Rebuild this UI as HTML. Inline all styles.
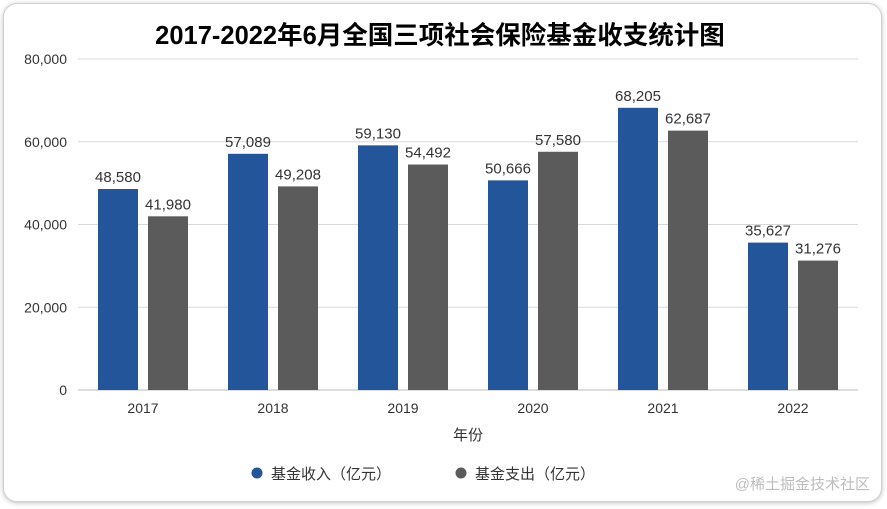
<!DOCTYPE html>
<html><head><meta charset="utf-8">
<style>
body{margin:0;background:#fff;width:887px;height:509px;overflow:hidden;font-family:"Liberation Sans","Noto Sans CJK SC",sans-serif;}
.card{position:absolute;left:3px;top:3px;width:877px;height:497px;border:1px solid #d0d0d0;border-radius:14px;box-shadow:0 1px 5px rgba(0,0,0,.25);background:#fff;}
</style></head><body>
<div class="card"></div>
<svg id="c" width="887" height="509" style="position:absolute;left:0;top:0">
<text x="440" y="44" text-anchor="middle" font-size="25.5" font-weight="bold" fill="#000" font-family="Liberation Sans,Noto Sans CJK SC,sans-serif">2017-2022年6月全国三项社会保险基金收支统计图</text>
<g id="grid"></g><g id="bars"></g><g id="labels"></g>
<text x="468" y="440" text-anchor="middle" font-size="15" fill="#333" font-family="Liberation Sans,Noto Sans CJK SC,sans-serif">年份</text>
<g><circle cx="257" cy="473" r="5.5" fill="#23559b"/><text x="271" y="479" font-size="15" fill="#333" font-family="Liberation Sans,Noto Sans CJK SC,sans-serif">基金收入（亿元）</text></g>
<g><circle cx="461" cy="473" r="5.5" fill="#5b5b5b"/><text x="475" y="479" font-size="15" fill="#333" font-family="Liberation Sans,Noto Sans CJK SC,sans-serif">基金支出（亿元）</text></g>
<text x="870" y="489" text-anchor="end" font-size="15" fill="#bdbdbd" font-family="Liberation Sans,Noto Sans CJK SC,sans-serif">@稀土掘金技术社区</text>
</svg>
<script>
const categories=["2017","2018","2019","2020","2021","2022"];
const income=[48580,57089,59130,50666,68205,35627];
const expense=[41980,49208,54492,57580,62687,31276];
const yTicks=[0,20000,40000,60000,80000];
const NS="http://www.w3.org/2000/svg";
const x0=78,x1=858,y0=390,y1=59,ymax=80000;
const band=(x1-x0)/categories.length;
const y=v=>y0-(v/ymax)*(y0-y1);
const xc=i=>x0+band*(i+0.5);
function mk(tag,at,parent,txt){const e=document.createElementNS(NS,tag);for(const k in at)e.setAttribute(k,at[k]);if(txt!=null)e.textContent=txt;document.getElementById(parent).appendChild(e);return e;}
const fmt=v=>v.toLocaleString('en-US');
const ff="Liberation Sans,Noto Sans CJK SC,sans-serif";
yTicks.forEach(t=>{
 const l=mk('line',{x1:x0,x2:x1,y1:y(t),y2:y(t),stroke:t===0?'#bbb':'#d9d9d9','stroke-width':1},'grid');
 
 
 const tx=mk('text',{x:67,y:y(t)+5,'text-anchor':'end','font-size':14,fill:'#333','font-family':ff},'grid',fmt(t));
 
 
});
categories.forEach((c,i)=>{
 const cx=xc(i);
 const tx=mk('text',{x:cx,y:413,'text-anchor':'middle','font-size':14,fill:'#333','font-family':ff},'labels',c);
 
 
 [[income[i],-45,'#23559b','income'],[expense[i],5,'#5b5b5b','expense']].forEach(([v,off,col,nm])=>{
  const r=mk('rect',{x:cx+off,y:y(v),width:40,height:y0-y(v),fill:col},'bars');
  
  
  const t=mk('text',{x:cx+off+20,y:y(v)-7,'text-anchor':'middle','font-size':15,fill:'#333','font-family':ff},'labels',fmt(v));
  
  
 });
});
</script>
</body></html>
